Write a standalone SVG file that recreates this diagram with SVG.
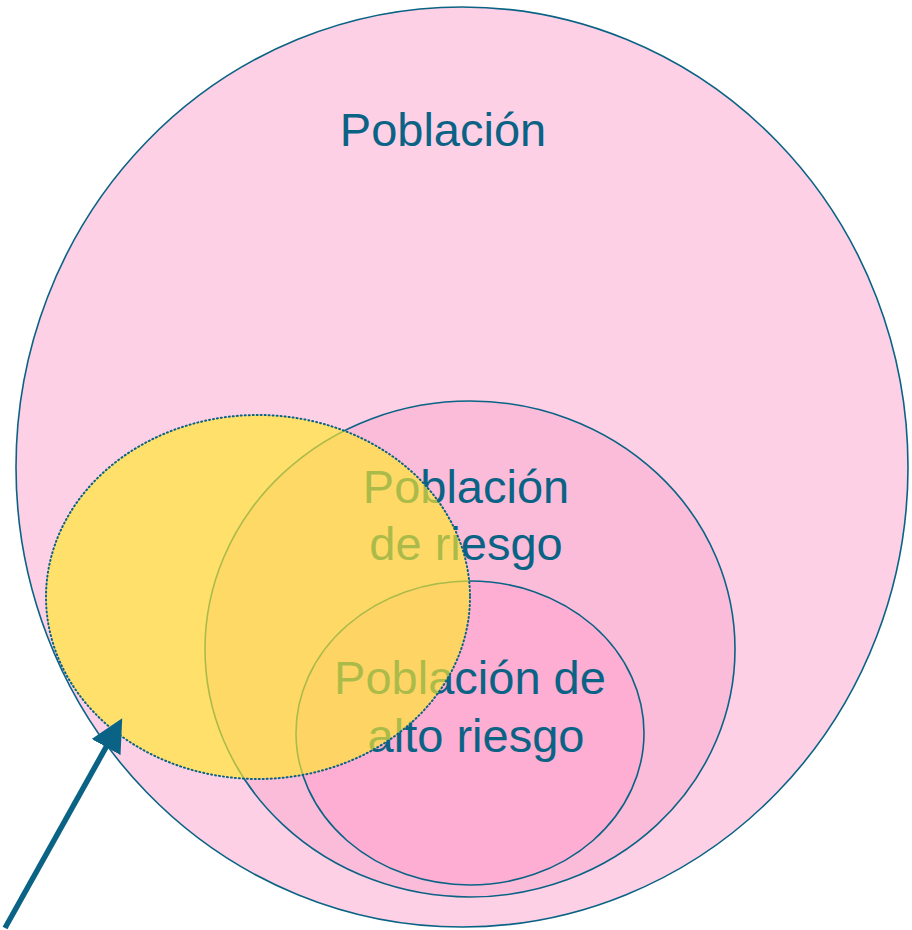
<svg xmlns="http://www.w3.org/2000/svg" width="912" height="930" viewBox="0 0 912 930">
<style>
.ring{stroke:#0a6385;stroke-width:1.6}
.lbl{font-family:"Liberation Sans",Arial,sans-serif;font-size:47px;fill:#0a6385;text-anchor:middle}
</style>
<defs>
<marker id="ah" viewBox="0 0 10 10" refX="8" refY="5" markerWidth="6" markerHeight="6" orient="auto" markerUnits="strokeWidth">
<path d="M0,0 L10,5 L0,10 z" fill="#0a6385"/>
</marker>
</defs>
<rect width="912" height="930" fill="#ffffff"/>
<g id="poblacion">
<ellipse class="ring" cx="462" cy="467" rx="446" ry="460" fill="#fdd0e6"/>
<text class="lbl" x="443" y="146">Población</text>
</g>
<g id="riesgo">
<ellipse class="ring" cx="470" cy="649" rx="265" ry="248" fill="#fbbcda"/>
<text class="lbl" x="466" y="503">Población</text>
<text class="lbl" x="466" y="560">de riesgo</text>
</g>
<g id="alto-riesgo">
<ellipse class="ring" cx="470" cy="733" rx="174" ry="152" fill="#fdaed2"/>
<text class="lbl" x="470" y="694">Población de</text>
<text class="lbl" x="476" y="752">alto riesgo</text>
</g>
<g id="amarillo">
<ellipse cx="258" cy="597" rx="212" ry="182" fill="#ffe82a" fill-opacity="0.66" stroke="#0a6385" stroke-width="2" stroke-dasharray="1 3" stroke-linecap="round"/>
</g>
<g id="connectors">
<line x1="5" y1="928" x2="119" y2="724" stroke="#0a6385" stroke-width="5.5" marker-end="url(#ah)"/>
</g>
</svg>
